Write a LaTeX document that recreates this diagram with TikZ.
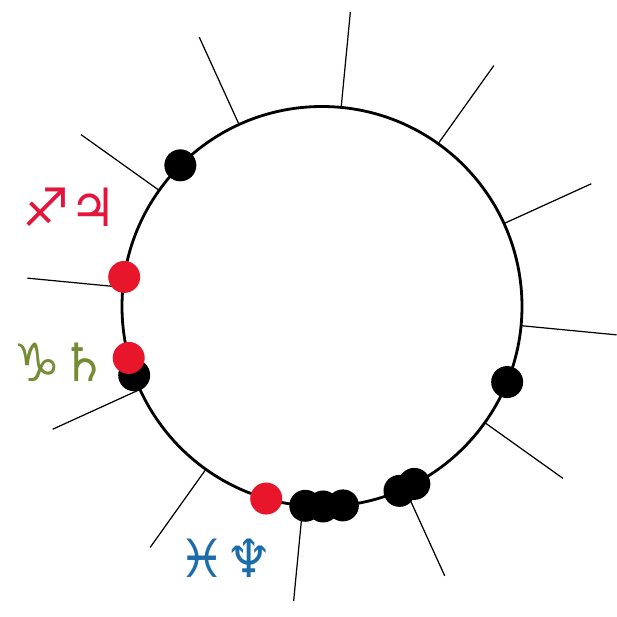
\documentclass[tikz,border=0pt]{standalone}
\usepackage{fontspec}
\newfontfamily\symfont{DejaVu Sans}
\usepackage{tikz}
\usetikzlibrary{positioning}
\definecolor{dotred}{RGB}{232,22,42}
\definecolor{signred}{RGB}{228,20,60}
\definecolor{signgreen}{RGB}{118,140,52}
\definecolor{signblue}{RGB}{28,108,170}

\begin{document}
\begin{tikzpicture}[
        blackdot/.style={circle, fill=black, inner sep=0pt, minimum size=0.64cm},
        reddot/.style={circle, fill=dotred, inner sep=0pt, minimum size=0.64cm},
        sign/.style={font=\symfont\fontsize{30}{30}\selectfont, inner sep=0pt},
        spoke/.style={line width=0.7pt},
        ring/.style={line width=1.6pt}
    ]

        \useasboundingbox (0,0) rectangle (12.34,12.34);
        \coordinate (c) at (6.44, 6.21);

        % spokes every 30 degrees
        \foreach \a in {84.5, 54.5, 24.5, -5.5, -35.5, -65.5, -95.5, -125.5, -155.5, 174.5, 144.5, 114.5}
            \draw[spoke] ([shift={(\a:4)}]c) -- ([shift={(\a:5.92)}]c);

        \draw[ring] (c) circle (4);

        \node[blackdot] (b1) at ([shift={(135.1:4)}]c) {};
        \node[blackdot] (b2) at ([shift={(200.1:4)}]c) {};
        \node[blackdot] (b3) at ([shift={(265.2:4)}]c) {};
        \node[blackdot] (b4) at ([shift={(270.3:4)}]c) {};
        \node[blackdot] (b5) at ([shift={(276:4)}]c) {};
        \node[blackdot] (b6) at ([shift={(292.8:4)}]c) {};
        \node[blackdot] (b7) at ([shift={(297.5:4)}]c) {};
        \node[blackdot] (b8) at ([shift={(337.8:4)}]c) {};

        \node[reddot] (r1) at ([shift={(171.5:4)}]c) {};
        \node[reddot] (r2) at ([shift={(194.9:4)}]c) {};
        \node[reddot] (r3) at ([shift={(253.8:4)}]c) {};

        \node[sign, text=signred] (sag) at (1.40, 8.20) {♐♃};
        \node[sign, text=signgreen] (cap) at (1.22, 5.10) {♑♄};
        \node[sign, text=signblue] (pis) at (4.52, 1.18) {♓♆};

    \end{tikzpicture}
\end{document}
